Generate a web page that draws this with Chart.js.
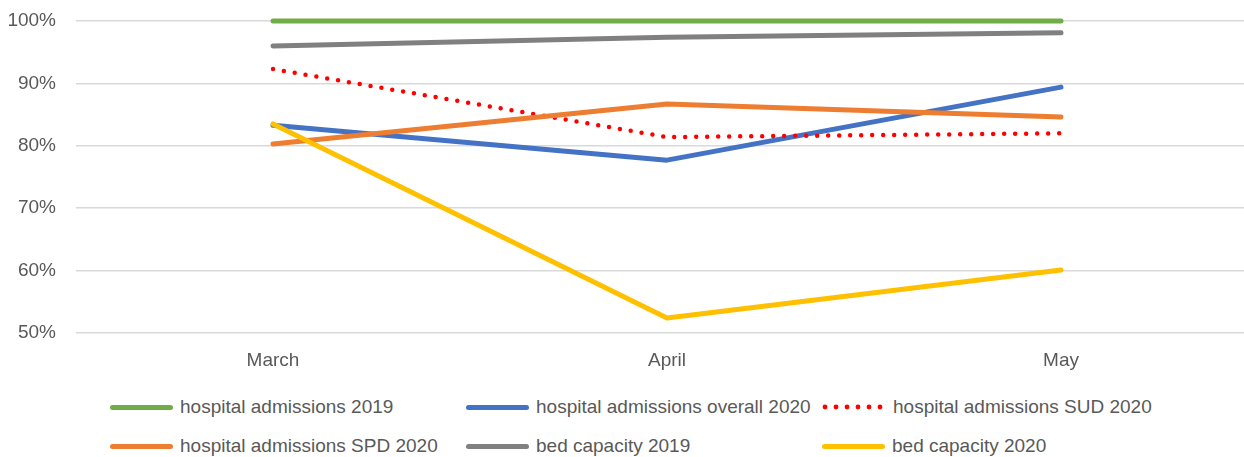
<!DOCTYPE html>
<html>
<head>
<meta charset="utf-8">
<script src="https://cdn.jsdelivr.net/npm/chart.js@4.4.1/dist/chart.umd.min.js"></script>
<style>
  html, body { margin: 0; padding: 0; background: #fff; overflow: hidden; }
  #wrap { position: relative; width: 1244px; height: 457px; overflow: hidden; }
  #box { position: absolute; left: 0; top: 0; width: 1262px; height: 380px; }
  #legend { position: absolute; left: 110px; top: 396px; width: 1100px;
    font-family: "Liberation Sans", Arial, sans-serif; font-size: 19px; color: #595959; }
  .item { position: absolute; display: flex; align-items: center; white-space: nowrap; }
  .sample { width: 63px; height: 0; margin-right: 7px; border-top: 5px solid; border-radius: 3px; }
  .dots { width: 64px; height: 6px; margin-right: 7px; }
</style>
</head>
<body>
<div id="wrap">
  <div id="box"><canvas id="lineChart"></canvas></div>
  <div id="legend"></div>
</div>
<script>
const months = ['March', 'April', 'May'];
const yTicks = [50, 60, 70, 80, 90, 100];

const admissions2019 = [100, 100, 100];
const admissionsOverall2020 = [83.3, 77.7, 89.4];
const admissionsSUD2020 = [92.3, 81.4, 82.0];
const admissionsSPD2020 = [80.3, 86.7, 84.6];
const bedCapacity2019 = [96.0, 97.4, 98.1];
const bedCapacity2020 = [83.5, 52.4, 60.1];

const seriesNames = ['hospital admissions 2019', 'hospital admissions overall 2020', 'hospital admissions SUD 2020',
    'hospital admissions SPD 2020', 'bed capacity 2019', 'bed capacity 2020'];
const seriesData = [admissions2019, admissionsOverall2020, admissionsSUD2020, admissionsSPD2020, bedCapacity2019, bedCapacity2020];
const seriesColors = ['#70AD47', '#4472C4', '#FF0000', '#ED7D31', '#808080', '#FFC000'];

const fontFamily = '"Liberation Sans", Arial, sans-serif';

let datasets = seriesData.map((values, i) => ({
    label: seriesNames[i],
    data: values,
    borderColor: seriesColors[i],
    backgroundColor: seriesColors[i],
    borderWidth: i == 2 ? 4.5 : 5,
    borderDash: i == 2 ? [0, 11] : [],
    borderCapStyle: 'round',
    borderJoinStyle: 'round',
    pointRadius: 0,
    pointHoverRadius: 0,
    tension: 0,
    clip: false,
    order: 6 - i
}));

let ctx = document.getElementById('lineChart').getContext('2d');
let lineChart = new Chart(ctx, {
    type: 'line',
    data: { labels: months, datasets: datasets },
    options: {
        responsive: true,
        maintainAspectRatio: false,
        animation: false,
        layout: { padding: { top: 21, right: 4, left: 0, bottom: 0 } },
        plugins: {
            legend: { display: false },
            tooltip: { enabled: false }
        },
        scales: {
            x: {
                offset: true,
                grid: { display: false, drawTicks: false },
                border: { display: false },
                ticks: { color: '#595959', font: { family: fontFamily, size: 19 }, padding: 16 },
                afterFit: (scale) => { scale.height = 47; scale.paddingLeft = 0; scale.paddingRight = 0; }
            },
            y: {
                min: 50,
                max: 100,
                afterBuildTicks: (scale) => { scale.ticks = yTicks.map(v => ({ value: v })); },
                grid: { color: '#d9d9d9', lineWidth: 1.5, drawTicks: false },
                border: { display: false },
                ticks: {
                    color: '#595959',
                    font: { family: fontFamily, size: 19 },
                    padding: 20,
                    callback: (v) => v + '%'
                },
                afterFit: (scale) => { scale.width = 76; scale.paddingTop = 0; scale.paddingBottom = 0; }
            }
        }
    }
});

// legend in three fixed columns, like the original
const legendCols = [0, 356, 712];
const legendRows = [0, 39];
let legend = document.getElementById('legend');
seriesNames.forEach((name, i) => {
    let item = document.createElement('div');
    item.className = 'item';
    item.style.left = legendCols[i % 3] + 'px';
    item.style.top = legendRows[Math.floor(i / 3)] + 'px';
    let sample;
    if (i == 2) {
        sample = document.createElement('canvas');
        sample.className = 'dots';
        sample.width = 64; sample.height = 6;
        let c = sample.getContext('2d');
        c.fillStyle = seriesColors[i];
        for (let x = 3; x < 64; x += 11) { c.beginPath(); c.arc(x, 3, 2.4, 0, Math.PI * 2); c.fill(); }
    } else {
        sample = document.createElement('div');
        sample.className = 'sample';
        sample.style.borderColor = seriesColors[i];
    }
    let text = document.createElement('span');
    text.textContent = name;
    item.appendChild(sample);
    item.appendChild(text);
    legend.appendChild(item);
});
</script>
</body>
</html>
